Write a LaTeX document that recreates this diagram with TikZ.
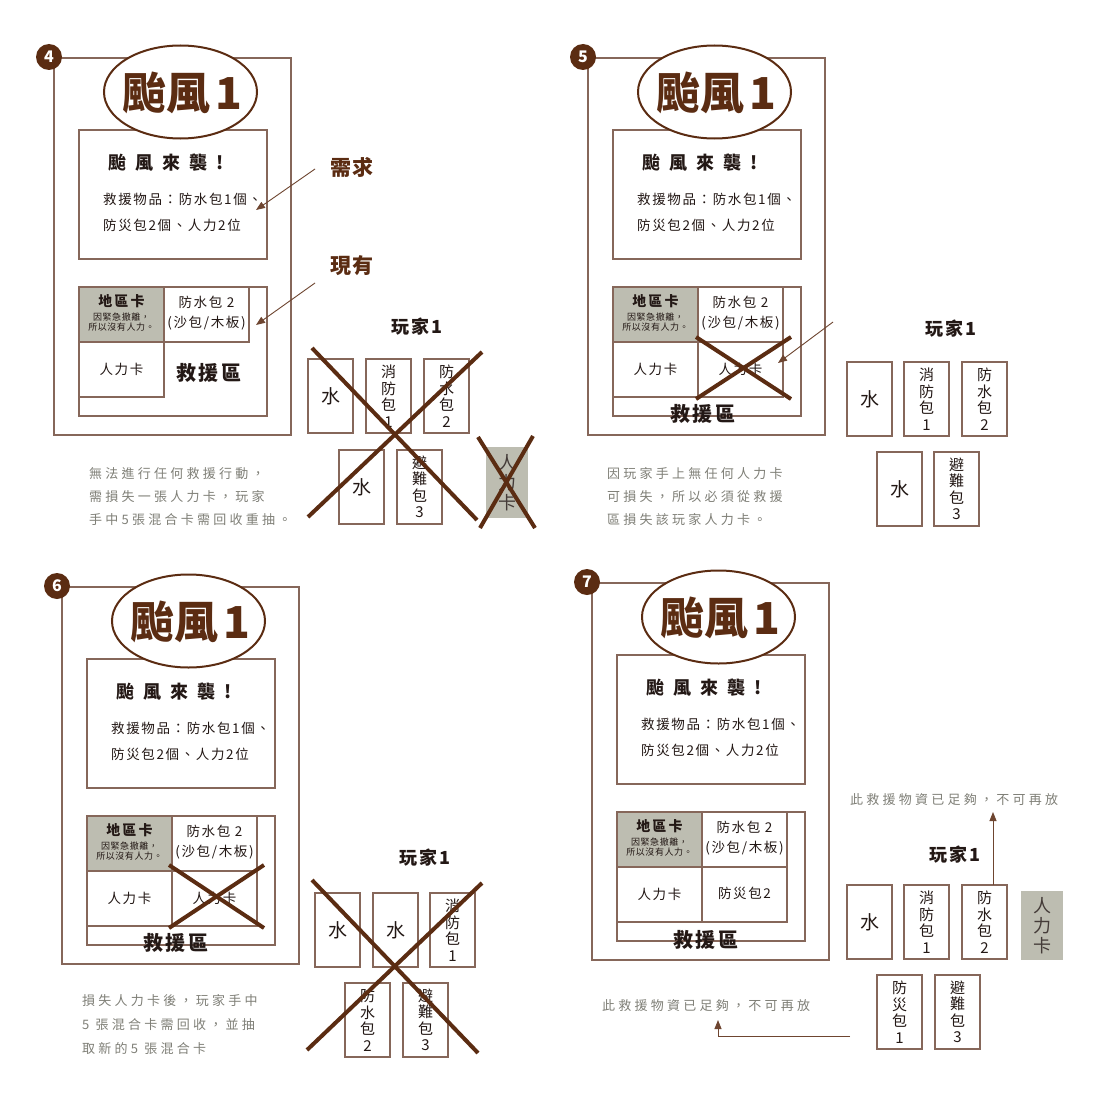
\documentclass[tikz,border=0pt]{standalone}
\usepackage{fontspec}
\setmainfont{Noto Sans CJK TC}
\usetikzlibrary{shapes.geometric,arrows.meta}
\definecolor{brownD}{HTML}{5B2C12}
\definecolor{lineC}{HTML}{86675A}
\definecolor{grayF}{HTML}{BDBDB1}
\definecolor{txtK}{HTML}{231815}
\definecolor{grayT}{HTML}{7F7F77}
\definecolor{arrC}{HTML}{6E4530}
\newcommand\myfs[2]{\fontsize{#1}{#2}\selectfont}
\newcommand\myls[1]{\addfontfeature{LetterSpace=#1}}
\tikzset{
 frame/.style={draw=lineC, line width=1.3pt, inner sep=0pt, outer sep=0pt, anchor=north west},
 box/.style={frame, fill=white},
 graybox/.style={frame, fill=grayF},
 card/.style={box, align=center, text=txtK, font=\myfs{15}{16.5}},
 wcard/.style={box, text=txtK, font=\myfs{19}{19}},
 gcard/.style={fill=grayF, inner sep=0pt, outer sep=0pt, anchor=north west, align=center, text=txtK!85, font=\myfs{18}{20}},
 badge/.style={circle, fill=brownD, text=white, minimum size=26pt, inner sep=0pt, font=\bfseries\myfs{16}{16}},
 titleell/.style={ellipse, draw=brownD, line width=2pt, fill=white, minimum width=153pt, minimum height=93pt, inner sep=0pt},
 titletxt/.style={inner sep=0pt, text=brownD, font=\bfseries\myfs{44}{44}},
 heading/.style={anchor=west, inner sep=0pt, text=txtK, font=\bfseries\myfs{18}{18}\myls{50}},
 reqtxt/.style={anchor=west, inner sep=0pt, text=txtK, font=\myfs{13.5}{13.5}\myls{12}},
 celltxt/.style={inner sep=0pt, text=txtK, font=\myfs{13.5}{13.5}\myls{12}},
 celltxtb/.style={inner sep=0pt, text=txtK, font=\bfseries\myfs{14}{14}\myls{15}},
 tinytxt/.style={inner sep=0pt, text=txtK, font=\myfs{9}{9}\myls{6}},
 zonetxt/.style={inner sep=0pt, text=txtK, font=\bfseries\myfs{20}{20}\myls{12}},
 ptitle/.style={inner sep=0pt, text=txtK, font=\bfseries\myfs{18}{18}\myls{12}},
 labtxt/.style={inner sep=0pt, anchor=west, text=brownD, font=\bfseries\myfs{21}{21}\myls{5}},
 graytxt/.style={anchor=west, inner sep=0pt, text=grayT, font=\myfs{13}{13}\myls{25}},
 xline/.style={draw=brownD, line width=4pt},
 arr/.style={draw=arrC, line width=0.9pt, -{Triangle[length=9pt,width=7pt]}},
}
\newcommand\cardnode[4]{\node[card, minimum width=45pt, minimum height=74pt] (#1) at (#2,#3) {#4};}
\newcommand\wcardnode[4]{\node[wcard, minimum width=45pt, minimum height=74pt] (#1) at (#2,#3) {#4};}
\newcommand\panelbase[2]{%
  \node[frame, minimum width=237pt, minimum height=377pt] (#1f) at (0,0) {};
  \node[box, minimum width=188pt, minimum height=129pt] (#1r) at (25,72) {};
  \node[titleell] (#1e) at (126.5,34) {};
  \node[titletxt] (#1t) at (128,35) {颱風\kern5pt 1};
  \node[badge] (#1b) at (-5,-1) {#2};
  \node[heading] (#1h) at (54,105) {颱風來襲!};
  \node[reqtxt] (#1l1) at (49,141) {救援物品：防水包1個、};
  \node[reqtxt] (#1l2) at (49,167) {防災包2個、人力2位};
  \node[box, minimum width=188pt, minimum height=129pt] (#1z) at (25,229) {};
  \node[graybox, minimum width=85pt, minimum height=55pt] (#1c1) at (25,229) {};
  \node[box, minimum width=85pt, minimum height=55pt] (#1c2) at (110,229) {};
  \node[box, minimum width=85pt, minimum height=55pt] (#1c3) at (25,284) {};
  \node[celltxtb] (#1c1a) at (67.5,243) {地區卡};
  \node[tinytxt] (#1c1b) at (67.5,259) {因緊急撤離，};
  \node[tinytxt] (#1c1c) at (67.5,269) {所以沒有人力。};
  \node[celltxt] (#1c2a) at (152.5,244) {防水包 2};
  \node[celltxt] (#1c2b) at (152.5,265) {(沙包/木板)};
  \node[celltxt] (#1c3a) at (67.5,311) {人力卡};
}
\begin{document}
\begin{tikzpicture}[x=1pt,y=-1pt]
\useasboundingbox[fill=white] (0,0) rectangle (1105,1113);
% ---------------- panel 4
\begin{scope}[shift={(54,58)}]
  \panelbase{pa}{4}
  \node[zonetxt] (paz) at (155,315) {救援區};
\end{scope}
\node[labtxt] (need) at (330,167) {需求};
\node[labtxt] (have) at (330,266) {現有};
\coordinate (a1s) at (315,169); \coordinate (a1e) at (256,210);
\coordinate (a2s) at (315,283); \coordinate (a2e) at (256,325);
\draw[arr] (a1s) -- (a1e);
\draw[arr] (a2s) -- (a2e);
\node[ptitle] (pap) at (417,327) {玩家1};
\wcardnode{pak1}{308}{359}{水}
\cardnode{pak2}{366}{359}{消\\防\\包\\1}
\cardnode{pak3}{424}{359}{防\\水\\包\\2}
\wcardnode{pak4}{339}{450}{水}
\cardnode{pak5}{397}{450}{避\\難\\包\\3}
\node[gcard, minimum width=42pt, minimum height=71pt] (pak6) at (486,447) {人\\力\\卡};
\draw[xline] (312,348) -- (477,520);
\draw[xline] (482,352) -- (308,517);
\draw[xline] (478,437) -- (535,528);
\draw[xline] (533,436) -- (480,528);
\node[graytxt] (pan1) at (89,474) {無法進行任何救援行動，};
\node[graytxt] (pan2) at (89,497) {需損失一張人力卡，玩家};
\node[graytxt] (pan3) at (89,520) {手中5張混合卡需回收重抽。};
% ---------------- panel 5
\begin{scope}[shift={(588,58)}]
  \panelbase{pb}{5}
  \node[box, minimum width=85pt, minimum height=55pt] (pbc4) at (110,284) {};
  \node[celltxt] (pbc4a) at (152.5,311) {人力卡};
  \draw[xline] (108,279) -- (203,341);
  \draw[xline] (203,279) -- (108,341);
  \node[zonetxt] (pbz) at (115,356) {救援區};
\end{scope}
\coordinate (b1s) at (833,322); \coordinate (b1e) at (778,363);
\draw[arr] (b1s) -- (b1e);
\node[ptitle] (pbp) at (951,329) {玩家1};
\wcardnode{pbk1}{847}{362}{水}
\cardnode{pbk2}{904}{362}{消\\防\\包\\1}
\cardnode{pbk3}{962}{362}{防\\水\\包\\2}
\wcardnode{pbk4}{877}{452}{水}
\cardnode{pbk5}{934}{452}{避\\難\\包\\3}
\node[graytxt] (pbn1) at (607,474) {因玩家手上無任何人力卡};
\node[graytxt] (pbn2) at (607,497) {可損失，所以必須從救援};
\node[graytxt] (pbn3) at (607,520) {區損失該玩家人力卡。};
% ---------------- panel 6
\begin{scope}[shift={(62,587)}]
  \panelbase{pc}{6}
  \node[box, minimum width=85pt, minimum height=55pt] (pcc4) at (110,284) {};
  \node[celltxt] (pcc4a) at (152.5,311) {人力卡};
  \draw[xline] (107,278) -- (202,341);
  \draw[xline] (202,278) -- (107,341);
  \node[zonetxt] (pcz) at (114,356) {救援區};
\end{scope}
\node[ptitle] (pcp) at (425,858) {玩家1};
\wcardnode{pck1}{315}{893}{水}
\wcardnode{pck2}{373}{893}{水}
\cardnode{pck3}{430}{893}{消\\防\\包\\1}
\cardnode{pck4}{345}{983}{防\\水\\包\\2}
\cardnode{pck5}{403}{983}{避\\難\\包\\3}
\draw[xline] (312,880) -- (478,1053);
\draw[xline] (482,883) -- (307,1050);
\node[graytxt] (pcn1) at (82,1001) {損失人力卡後，玩家手中};
\node[graytxt] (pcn2) at (82,1025) {5 張混合卡需回收，並抽};
\node[graytxt] (pcn3) at (82,1049) {取新的5 張混合卡};
% ---------------- panel 7
\begin{scope}[shift={(592,583)}]
  \panelbase{pd}{7}
  \node[box, minimum width=85pt, minimum height=55pt] (pdc4) at (110,284) {};
  \node[celltxt] (pdc4a) at (152.5,310) {防災包2};
  \node[zonetxt] (pdz) at (114,357) {救援區};
\end{scope}
\node[ptitle] (pdp) at (955,855) {玩家1};
\wcardnode{pdk1}{847}{885}{水}
\cardnode{pdk2}{904}{885}{消\\防\\包\\1}
\cardnode{pdk3}{962}{885}{防\\水\\包\\2}
\node[gcard, minimum width=42pt, minimum height=69pt] (pdk4) at (1021,891) {人\\力\\卡};
\cardnode{pdk5}{877}{975}{防\\災\\包\\1}
\cardnode{pdk6}{935}{975}{避\\難\\包\\3}
\node[graytxt] (pdn1) at (850,800) {此救援物資已足夠，不可再放};
\node[graytxt] (pdn2) at (602,1006) {此救援物資已足夠，不可再放};
\coordinate (d1s) at (993,885); \coordinate (d1e) at (993,812);
\draw[arr] (d1s) -- (d1e);
\coordinate (d2s) at (850,1036); \coordinate (d2e) at (718,1020);
\draw[arr] (d2s) -| (d2e);
\end{tikzpicture}
\end{document}
